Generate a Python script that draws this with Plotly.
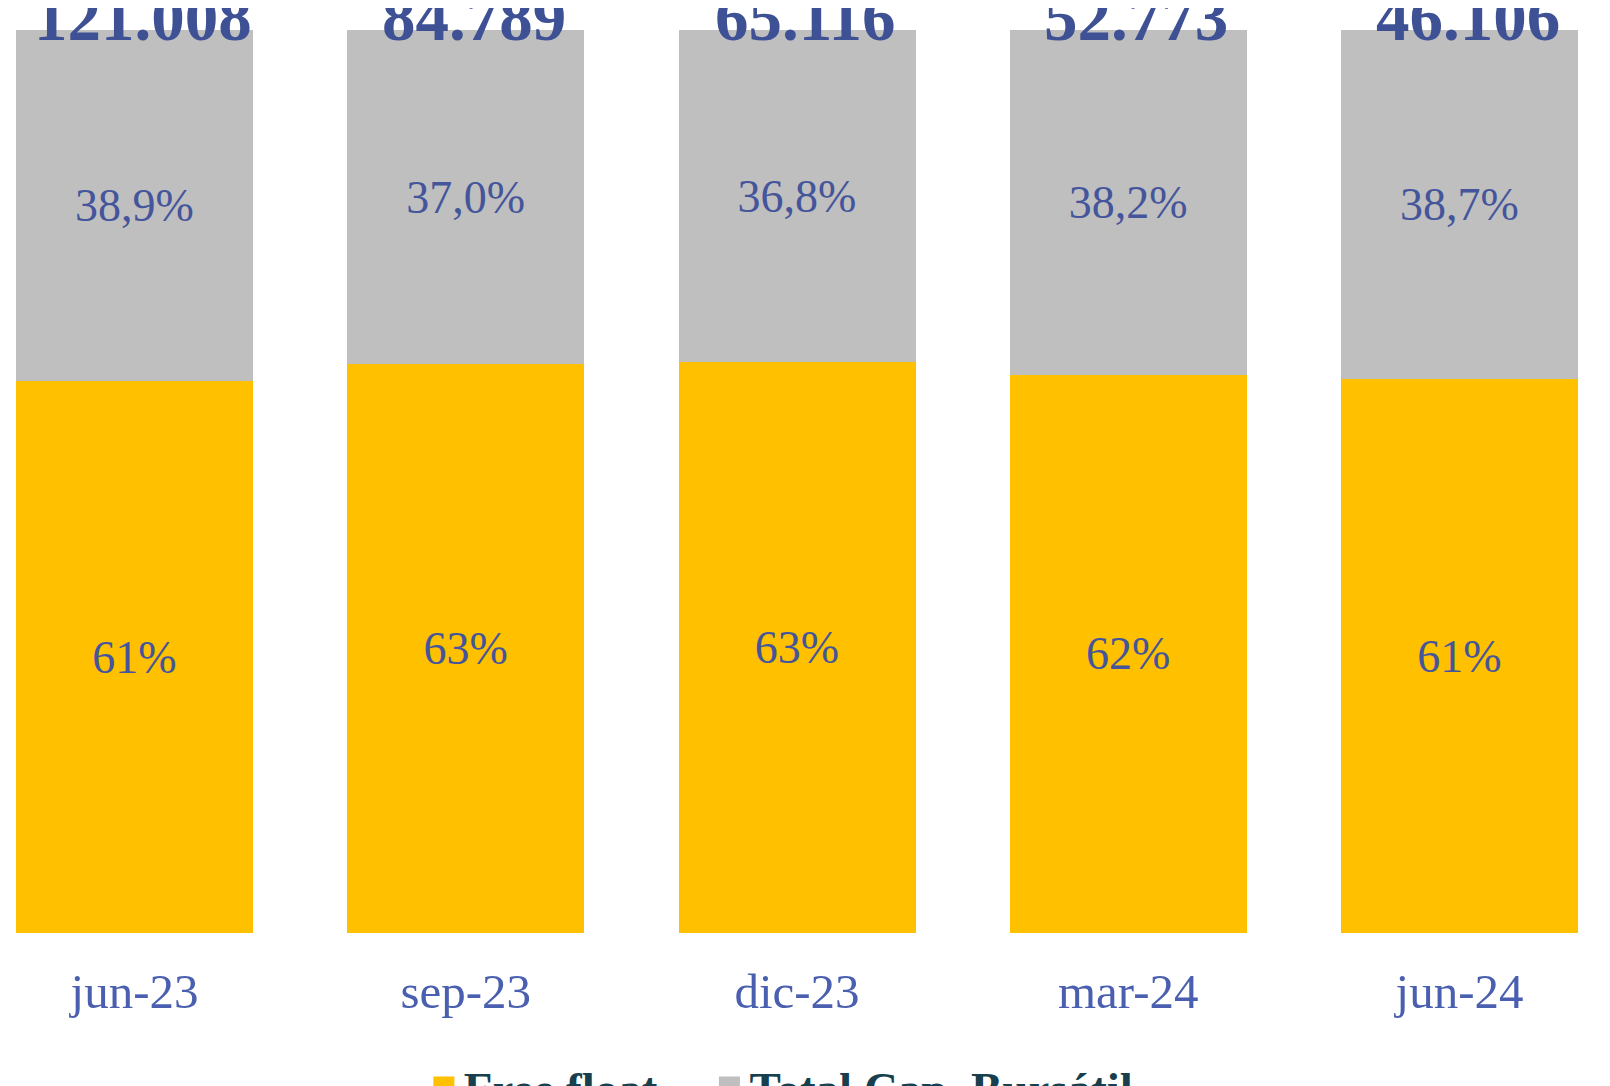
import plotly.graph_objects as go

categories = ["jun-23", "sep-23", "dic-23", "mar-24", "jun-24"]
free_float = [61.1, 63.0, 63.2, 61.8, 61.3]
resto = [38.9, 37.0, 36.8, 38.2, 38.7]
totales = [121008, 84789, 65116, 52773, 46106]
series_names = ["Free float", "Total Cap. Bursátil"]

YELLOW = "#FFC000"
GRAY = "#BFBFBF"
LABEL = "#44559B"
TICK = "#4A5FAF"
TOTAL = "#3E5194"
LEGEND = "#173F4D"
FONT = "Liberation Serif"

fig = go.Figure()
fig.add_trace(go.Bar(
    x=categories, y=free_float, name=series_names[0],
    marker=dict(color=YELLOW, line=dict(width=0)),
    texttemplate="%{y:.0f}%", textposition="inside", insidetextanchor="middle",
    textfont=dict(family=FONT, size=46, color=LABEL), showlegend=False,
    textangle=0,
))
fig.add_trace(go.Bar(
    x=categories, y=resto, name=series_names[1],
    marker=dict(color=GRAY, line=dict(width=0)),
    texttemplate="%{y:.1f}%", textposition="inside", insidetextanchor="middle",
    textfont=dict(family=FONT, size=46, color=LABEL), showlegend=False,
    textangle=0,
))
# legend entries (spacing via non-breaking spaces after the first name)
legend_labels = [series_names[0] + "\u00a0" * 4, series_names[1]]
for name, col in zip(legend_labels, [YELLOW, GRAY]):
    fig.add_trace(go.Scatter(
        x=[None], y=[None], mode="markers", name=name,
        marker=dict(symbol="square", size=16, color=col, line=dict(color=col, width=5)),
    ))

for c, t in zip(categories, totales):
    fig.add_annotation(
        x=c, y=100, text=f"{t:,}".replace(",", "."),
        showarrow=False, yanchor="bottom", yshift=-26, xshift=8,
        font=dict(family=FONT, size=67, color=TOTAL, weight="bold"),
    )

fig.update_layout(
    width=1610, height=1086,
    barmode="stack", bargap=0.2845,
    separators=",.",
    margin=dict(l=0, r=0, t=0, b=161, autoexpand=False),
    paper_bgcolor="white", plot_bgcolor="white",
    showlegend=True,
    legend=dict(
        orientation="h", x=0.2583, xanchor="left", y=-0.1265, yanchor="top",
        font=dict(family=FONT, size=47, color=LEGEND, weight="bold"),
        itemwidth=30, traceorder="normal", bgcolor="rgba(0,0,0,0)",
    ),
    xaxis=dict(
        range=[-0.3819, 4.4785], showgrid=False, zeroline=False, showline=False,
        ticks="", ticklabelstandoff=25,
        tickfont=dict(family=FONT, size=49, color=TICK),
    ),
    yaxis=dict(range=[0, 102.44], visible=False),
)

fig.write_html("out.html")
